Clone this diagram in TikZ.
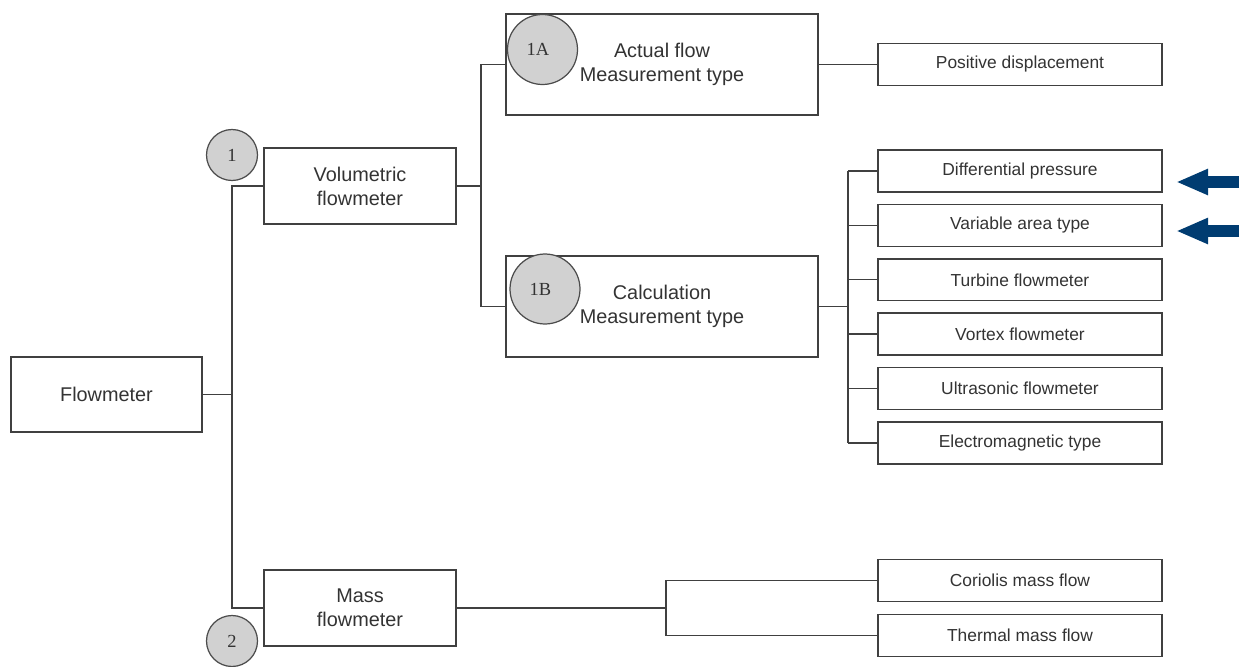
\documentclass[tikz,border=0pt]{standalone}
\usepackage{fontspec}
\setmainfont{Liberation Sans}
\newfontfamily\numfont{Liberation Serif}
\usetikzlibrary{positioning, arrows.meta}

\definecolor{navyblue}{RGB}{0,60,113}

\begin{document}
\begin{tikzpicture}[x=0.02cm, y=-0.02cm,
    bigbox/.style={rectangle, draw=black!75, line width=0.8pt, align=center, text=black!80, inner sep=0pt, font=\fontsize{11.3}{13.6}\selectfont},
    listbox/.style={bigbox, minimum width=5.68cm, minimum height=0.84cm, font=\fontsize{9.9}{12}\selectfont},
    tag/.style={circle, draw=black!70, fill=black!18, line width=0.7pt, minimum size=1.02cm, inner sep=0pt, text=black!80, font=\numfont\fontsize{10.5}{12}\selectfont},
    bigtag/.style={tag, minimum size=1.4cm},
    link/.style={draw=black!75, line width=0.8pt},
    pointer/.style={draw=navyblue, line width=0.24cm, -{Triangle[length=0.64cm, width=0.48cm]}}]
    \useasboundingbox (0,0) rectangle (1244,666);

    % main branches
    \node[bigbox, minimum width=3.82cm, minimum height=1.5cm] (flow) at (106.5,394.5) {Flowmeter};
    \node[bigbox, minimum width=3.84cm, minimum height=1.52cm] (vol) at (360,186) {Volumetric\\flowmeter};
    \node[bigbox, minimum width=3.84cm, minimum height=1.52cm] (mass) at (360,608) {Mass\\flowmeter};
    \node[bigbox, minimum width=6.24cm, minimum height=2.02cm] (act) at (662,64.5) {Actual flow\\Measurement type};
    \node[bigbox, minimum width=6.24cm, minimum height=2.02cm] (calc) at (662,306.5) {Calculation\\Measurement type};

    % leaf boxes
    \node[listbox] (pos) at (1020,64.5) {Positive displacement};
    \node[listbox] (dp) at (1020,171) {Differential pressure};
    \node[listbox] (var) [below = 0.22cm of dp] {Variable area type};
    \node[listbox] (tur) [below = 0.22cm of var] {Turbine flowmeter};
    \node[listbox] (vor) [below = 0.22cm of tur] {Vortex flowmeter};
    \node[listbox] (ult) [below = 0.22cm of vor] {Ultrasonic flowmeter};
    \node[listbox] (emt) [below = 0.22cm of ult] {Electromagnetic type};
    \node[listbox] (cor) at (1020,580.5) {Coriolis mass flow};
    \node[listbox] (thm) [below = 0.232cm of cor] {Thermal mass flow};

    % connectors
    \coordinate (j0) at (232,394.5);
    \coordinate (j1) at (481,306.5);
    \coordinate (j2) at (848,306.5);
    \coordinate (j3) at (666,608);
    \draw[link] (flow.east) -- (j0);
    \draw[link] (vol.west) -| (j0) |- (mass.west);
    \draw[link] (vol.east) -- (vol.east -| j1);
    \draw[link] (act.west) -| (j1) -- (calc.west);
    \draw[link] (act.east) -- (pos.west);
    \draw[link] (calc.east) -- (j2);
    \draw[link] (dp.west -| j2) -- (emt.west -| j2);
    \foreach \leaf in {dp, var, tur, vor, ult, emt}
        \draw[link] (\leaf.west) -- (\leaf.west -| j2);
    \draw[link] (mass.east) -- (j3);
    \draw[link] (cor.west) -| (j3) |- (thm.west);

    % number tags
    \node[tag] (t1) at (232,155) {1};
    \node[tag] (t2) at (232,641) {2};
    \node[bigtag] (t1a) at (542.5,49.5) {1A\\[-8pt]\phantom{1}};
    \node[bigtag] (t1b) at (545,289) {1B\\[-8pt]\phantom{1}};

    % pointers
    \coordinate (p1) at (1239,182);
    \coordinate (p2) at (1239,231);
    \draw[pointer] (p1) -- (1176,182);
    \draw[pointer] (p2) -- (1176,231);
\end{tikzpicture}
\end{document}
